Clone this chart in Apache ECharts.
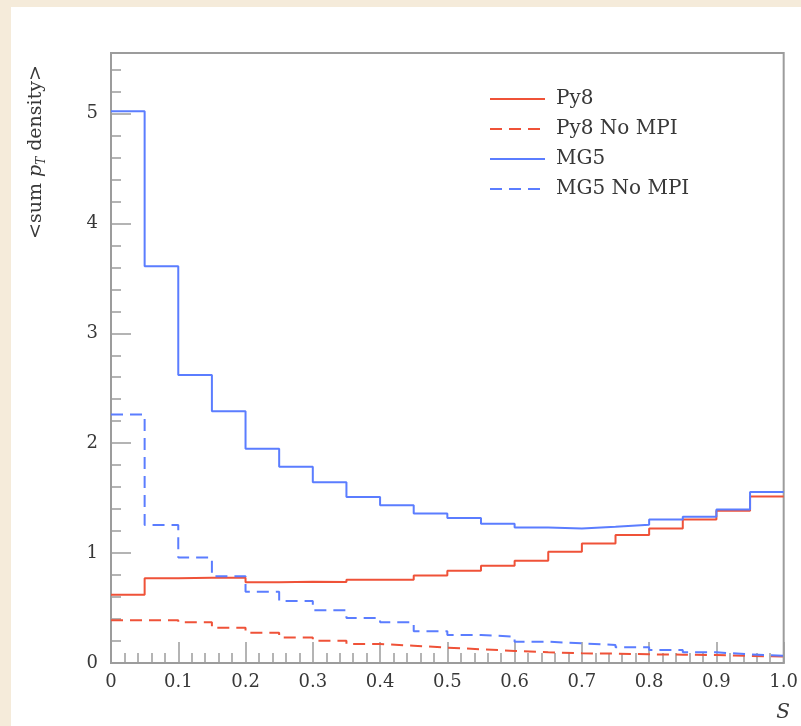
<!DOCTYPE html>
<html>
<head>
<meta charset="utf-8">
<script src="https://cdn.jsdelivr.net/npm/echarts@6/dist/echarts.min.js"></script>
<style>
html,body{margin:0;padding:0;background:#f5ebda;}
#panel{position:absolute;left:11px;top:7px;width:790px;height:719px;background:#ffffff;}
#chart{position:absolute;left:0;top:0;width:801px;height:726px;}
</style>
</head>
<body>
<div id="panel"></div>
<div id="chart"></div>
<script>
// Bin edges (S)
const binEdges = [0, 0.05, 0.1, 0.15, 0.2, 0.25, 0.3, 0.35, 0.4, 0.45, 0.5, 0.55, 0.6, 0.65, 0.7, 0.75, 0.8, 0.85, 0.9, 0.95, 1.0];
// <sum pT density> per bin
const py8 = [0.62, 0.77, 0.775, 0.775, 0.735, 0.74, 0.737, 0.757, 0.757, 0.795, 0.84, 0.885, 0.93, 1.012, 1.088, 1.164, 1.224, 1.306, 1.385, 1.515];
const py8NoMPI = [0.39, 0.39, 0.37, 0.32, 0.275, 0.233, 0.203, 0.173, 0.157, 0.14, 0.125, 0.11, 0.097, 0.088, 0.085, 0.079, 0.076, 0.073, 0.064, 0.058];
const mg5 = [5.02, 3.61, 2.62, 2.29, 1.95, 1.785, 1.645, 1.51, 1.435, 1.36, 1.32, 1.267, 1.233, 1.224, 1.24, 1.257, 1.306, 1.33, 1.397, 1.555];
const mg5NoMPI = [2.26, 1.255, 0.96, 0.79, 0.648, 0.564, 0.48, 0.41, 0.37, 0.29, 0.255, 0.24, 0.194, 0.179, 0.164, 0.143, 0.118, 0.097, 0.079, 0.066];
const seriesNames = ['Py8', 'Py8 No MPI', 'MG5', 'MG5 No MPI'];
const xTickLabels = ['0', '0.1', '0.2', '0.3', '0.4', '0.5', '0.6', '0.7', '0.8', '0.9', '1.0'];
const yTickLabels = ['0', '1', '2', '3', '4', '5'];

function hist(vals) {
  const pts = vals.map((v, i) => [binEdges[i], v]);
  pts.push([binEdges[binEdges.length - 1], vals[vals.length - 1]]);
  return pts;
}

const RED = '#ef5238';
const BLUE = '#5b7dff';
const AX = '#9c9c9c';
const TXT = '#383838';
const FONT = 'DejaVu Serif';

const chart = echarts.init(document.getElementById('chart'), null, {renderer: 'canvas'});

function mkSeries(name, vals, color, dashed) {
  return {
    name: name, type: 'line', step: 'end', data: hist(vals),
    symbol: 'none', xAxisIndex: 0, yAxisIndex: 0,
    lineStyle: {color: color, width: 2, type: dashed ? [12, 7] : 'solid'},
    itemStyle: {color: color},
    animation: false
  };
}

chart.setOption({
  animation: false,
  grid: {left: 111, right: 11, top: 53, bottom: 63, show: true, borderColor: AX, borderWidth: 2, backgroundColor: 'transparent'},
  legend: {
    orient: 'vertical', left: 484, top: 84,
    itemWidth: 55, itemHeight: 14, itemGap: 10,
    data: seriesNames,
    itemStyle: {opacity: 0, color: 'transparent', borderWidth: 0},
    textStyle: {fontFamily: FONT, fontSize: 20, color: TXT, padding: [0, 0, 0, 6]}
  },
  xAxis: [{
    type: 'value', min: 0, max: 1, interval: 0.1,
    axisLine: {show: true, lineStyle: {color: AX, width: 2}},
    axisTick: {show: true, inside: true, length: 21, lineStyle: {color: AX, width: 1.5}},
    minorTick: {show: true, splitNumber: 5, length: 10, lineStyle: {color: AX, width: 1.5}},
    splitLine: {show: false},
    axisLabel: {
      margin: 10, fontFamily: FONT, fontSize: 18, color: TXT,
      formatter: function (v) { return xTickLabels[Math.round(v * 10)]; }
    }
  }],
  yAxis: [{
    type: 'value', min: 0, max: 5.55, interval: 1,
    axisLine: {show: true, lineStyle: {color: AX, width: 2}},
    axisTick: {show: true, inside: true, length: 20, lineStyle: {color: AX, width: 1.5}},
    splitLine: {show: false},
    axisLabel: {
      margin: 13, fontFamily: FONT, fontSize: 18, color: TXT, showMaxLabel: false,
      formatter: function (v) { const k = Math.round(v); return Math.abs(v - k) < 1e-6 ? yTickLabels[k] : ''; }
    }
  }, {
    type: 'value', min: 0, max: 5.55, interval: 0.2, position: 'left', offset: 0,
    axisLine: {show: false},
    axisTick: {show: true, inside: true, length: 10, lineStyle: {color: AX, width: 1.5}},
    splitLine: {show: false},
    axisLabel: {show: false}
  }],
  graphic: [{
    type: 'text', x: 36, y: 152, rotation: Math.PI / 2,
    style: {
      text: '<sum {i|p}{s|T} density>',
      fontFamily: FONT, fontSize: 19, fill: TXT,
      align: 'center', verticalAlign: 'middle',
      rich: {
        i: {fontFamily: FONT, fontSize: 19, fontStyle: 'italic', lineHeight: 24, verticalAlign: 'middle'},
        s: {fontFamily: FONT, fontSize: 12, fontStyle: 'italic', lineHeight: 12, verticalAlign: 'bottom'}
      }
    }
  }, {
    type: 'text', x: 783, y: 713,
    style: {text: 'S', fontFamily: FONT, fontSize: 20, fontStyle: 'italic', fill: TXT, align: 'center', verticalAlign: 'middle'}
  }],
  series: [
    mkSeries(seriesNames[0], py8, RED, false),
    mkSeries(seriesNames[1], py8NoMPI, RED, true),
    mkSeries(seriesNames[2], mg5, BLUE, false),
    mkSeries(seriesNames[3], mg5NoMPI, BLUE, true)
  ]
});
</script>
</body>
</html>
